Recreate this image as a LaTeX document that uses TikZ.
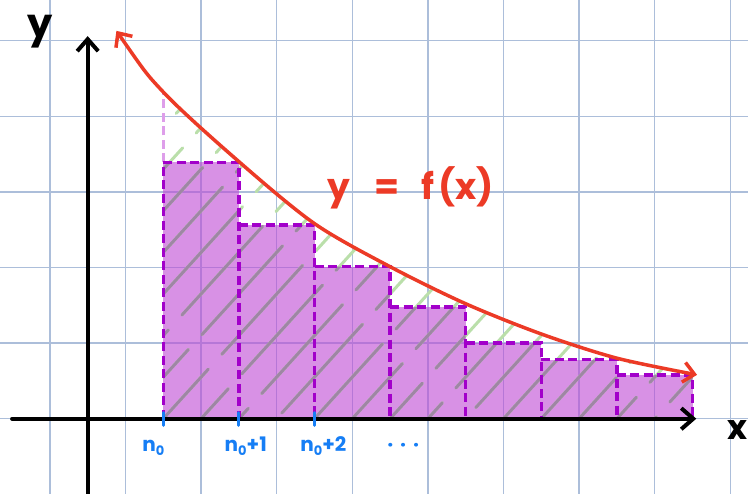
\documentclass[tikz,border=0pt]{standalone}
\usepackage{fontspec}
\usepackage{tikz}
\usetikzlibrary{arrows.meta}
\newfontfamily\hand{Poppins}
\definecolor{gridblue}{RGB}{172,190,218}
\definecolor{curvered}{RGB}{236,58,38}
\definecolor{rectfill}{RGB}{190,72,213}
\definecolor{rectedge}{RGB}{162,0,202}
\definecolor{rectpale}{RGB}{222,158,234}
\definecolor{hatchgreen}{RGB}{186,223,170}
\definecolor{hatchgray}{RGB}{158,134,164}
\definecolor{tickblue}{RGB}{22,126,245}
\newcommand{\fcurve}{(0.38,5.13) (1,4.32) (2,3.40) (3,2.58) (4,2.01) (5,1.52) (6,1.12) (7,0.80) (8.06,0.58)}
\newcommand{\nzero}{n\raisebox{-0.3ex}{\fontsize{13}{13}\selectfont 0}}

\begin{document}
\begin{tikzpicture}[x=75.6pt, y=75.6pt]
  \tikzstyle{gridline} = [gridblue, line width=1.3pt]
  \tikzstyle{axis} = [line width=4pt, line cap=round, -{Straight Barb[length=12pt, width=21pt]}]
  \tikzstyle{edge} = [rectedge, line width=3.5pt, dash pattern=on 9pt off 4.5pt]
  \tikzstyle{hatch} = [line width=3pt, line cap=round, dash pattern=on 120pt off 20pt]
  \tikzstyle{lbl} = [inner sep=0pt, font=\hand\bfseries]
  \tikzstyle{big} = [lbl, font={\hand\bfseries\fontsize{40}{44}\selectfont}]
  \tikzstyle{small} = [lbl, tickblue, anchor=base west, font={\hand\bfseries\fontsize{20}{24}\selectfont}]
  \useasboundingbox (-1.16,-0.996) rectangle (8.734,5.538);
  \fill[white] (-1.16,-0.996) rectangle (8.734,5.538);
  \foreach \i in {-0.5,0.5,...,8.5}
    \draw[gridline] (\i,-0.996) -- (\i,5.538);
  \foreach \j in {0,...,5}
    \draw[gridline] (-1.16,\j) -- (8.734,\j);
  \foreach \a/\h in {1/3.39, 2/2.56, 3/2.01, 4/1.48, 5/1.0, 6/0.78, 7/0.58}
    \fill[rectfill, opacity=0.6] (\a,0) rectangle (\a+1,\h);
  \begin{scope}
    \clip (1,0) rectangle (8,6);
    \clip plot[smooth] coordinates {\fcurve} -- (8.06,0) -- (0.38,0) -- cycle;
    \foreach \c in {-5,-4.5,...,8}
      \draw[hatch, hatchgreen, dash phase=\c*53pt] (\c,0) -- ++(5,5.5);
  \end{scope}
  \begin{scope}
    \clip (1,0) -- (1,3.39) -- (2,3.39) -- (2,2.56) -- (3,2.56) -- (3,2.01) -- (4,2.01) -- (4,1.48)
      -- (5,1.48) -- (5,1.0) -- (6,1.0) -- (6,0.78) -- (7,0.78) -- (7,0.58) -- (8,0.58) -- (8,0) -- cycle;
    \foreach \c in {-5,-4.5,...,8}
      \draw[hatch, hatchgray, dash phase=\c*53pt] (\c,0) -- ++(5,5.5);
  \end{scope}
  \draw[edge, rectpale] (1,3.39) -- (1,4.32);
  \draw[edge] (1,0) -- (1,3.39);
  \foreach \a/\h in {1/3.39, 2/2.56, 3/2.01, 4/1.48, 5/1.0, 6/0.78, 7/0.58}
    \draw[edge] (\a,\h) -- (\a+1,\h) -- (\a+1,0);
  \draw[axis] (-1.0,0) -- (8.05,0);
  \draw[axis] (0,-1.0) -- (0,5.06);
  \draw[curvered, line width=3.5pt, line cap=round,
    {Straight Barb[length=11pt, width=20pt]}-{Straight Barb[length=11pt, width=20pt]}]
    plot[smooth] coordinates {\fcurve};
  \foreach \a in {1,2,3}
    \draw[tickblue, line width=3pt, line cap=round] (\a,0.08) -- (\a,-0.09);
  \node[big] (ylab) at (-0.631,5.115) {y};
  \node[big, font={\hand\bfseries\fontsize{34}{40}\selectfont}] (xlab) at (8.589,-0.149) {x};
  \node[big, curvered, font={\hand\bfseries\fontsize{36}{40}\selectfont}] (flab) at (4.268,3.05) {y\hspace{0.7em}=\hspace{0.6em}f\hspace{0.1em}(x)};
  \node[small] (n0) at (0.72,-0.44) {\nzero};
  \node[small] (n1) at (1.81,-0.44) {\nzero+1};
  \node[small] (n2) at (2.81,-0.44) {\nzero+2};
  \node[small] (dots) at (3.96,-0.44) {·\hspace{0.35em}·\hspace{0.35em}·};
\end{tikzpicture}
\end{document}
